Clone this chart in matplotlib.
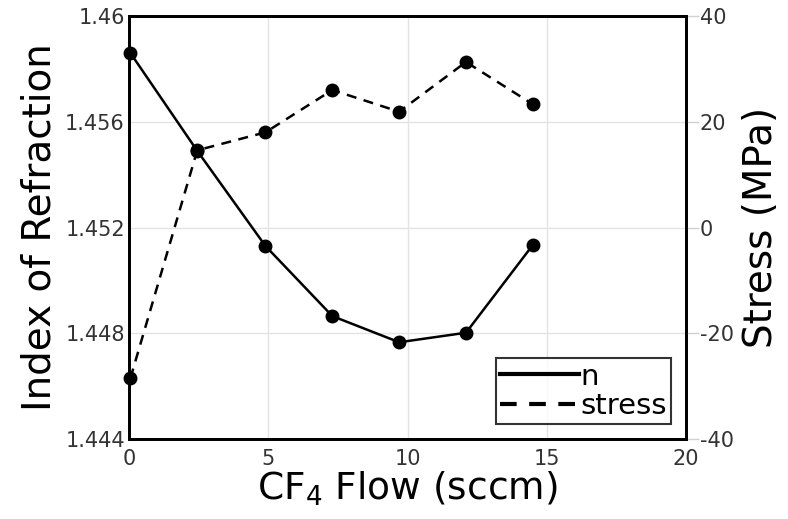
import numpy as np
import matplotlib
matplotlib.use('Agg')
import matplotlib.pyplot as plt

# data
flow = [0.05, 2.45, 4.9, 7.3, 9.7, 12.1, 14.5]
n_index = [1.4586, 1.4549, 1.4513, 1.44865, 1.44766, 1.44802, 1.45134]
stress = [-28.5, 14.6, 18.0, 26.0, 21.9, 31.3, 23.3]

left_ticks = [1.444, 1.448, 1.452, 1.456, 1.46]
left_labels = ['1.444', '1.448', '1.452', '1.456', '1.46']
right_ticks = [-40, -20, 0, 20, 40]
x_ticks = [0, 5, 10, 15, 20]

plt.rcParams['font.family'] = 'DejaVu Sans'
plt.rcParams['axes.unicode_minus'] = False

fig = plt.figure(figsize=(7.88, 5.19), dpi=100)
ax = fig.add_axes([0.1637, 0.1541, 0.7069, 0.8151])
ax2 = ax.twinx()

# grid on the main axes, behind everything
ax.set_axisbelow(True)
ax.grid(True, color='#e3e3e3', linewidth=1.0)

l1, = ax.plot(flow, n_index, color='black', linewidth=1.8, marker='o',
              markersize=9, label='n', clip_on=False, zorder=3)
l2, = ax2.plot(flow, stress, color='black', linewidth=1.8, linestyle=(0, (4, 3)),
               marker='o', markersize=9, label='stress', clip_on=False, zorder=3)

ax.set_xlim(0, 20)
ax.set_ylim(1.444, 1.46)
ax2.set_ylim(-40, 40)

ax.set_xticks(x_ticks)
ax.set_yticks(left_ticks)
ax.set_yticklabels(left_labels)
ax2.set_yticks(right_ticks)

ax.tick_params(axis='y', length=0, pad=3, labelsize=15, labelcolor='#333333')
ax.tick_params(axis='x', length=0, pad=7, labelsize=15, labelcolor='#333333')
ax2.tick_params(axis='y', length=9, width=1, color='#d0d0d0', pad=1,
                labelsize=15, labelcolor='#333333')

for a in (ax, ax2):
    for s in a.spines.values():
        s.set_linewidth(2.0)
        s.set_color('black')

ax.set_xlabel('CF$_4$ Flow (sccm)', fontsize=27, labelpad=1)
ax.set_ylabel('Index of Refraction', fontsize=28, labelpad=5)
ax2.set_ylabel('Stress (MPa)', fontsize=28, labelpad=6)

leg = ax2.legend(handles=[l1, l2], loc='lower right', fontsize=21,
                 frameon=True, fancybox=False, edgecolor='black',
                 handlelength=2.7, handletextpad=0.05, borderpad=0.15,
                 labelspacing=0.05, borderaxespad=0.5)
leg.get_frame().set_linewidth(1.5)
for h in leg.legend_handles:
    h.set_marker('')
    h.set_linewidth(3)

fig.savefig('out.png', dpi=100)
